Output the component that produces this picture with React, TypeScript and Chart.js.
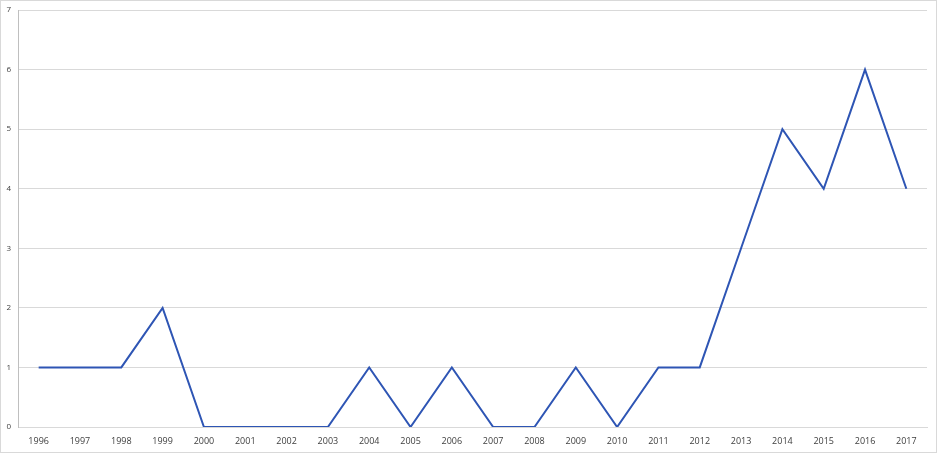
import React, { useEffect, useRef } from "react";
import { Chart, registerables } from "chart.js";

Chart.register(...registerables);

const years = ["1996","1997","1998","1999","2000","2001","2002","2003","2004","2005","2006","2007","2008","2009","2010","2011","2012","2013","2014","2015","2016","2017"];
const counts = [1,1,1,2,0,0,0,0,1,0,1,0,0,1,0,1,1,3,5,4,6,4];

export default function App() {
  const ref = useRef<HTMLCanvasElement>(null);
  useEffect(() => {
    document.body.style.margin = "0";
    const chart = new Chart(ref.current!, {
      type: "line",
      data: {
        labels: years,
        datasets: [{
          data: counts,
          borderColor: "#2E55B4",
          borderWidth: 2,
          pointRadius: 0,
          tension: 0,
          fill: false,
        }],
      },
      options: {
        animation: false,
        responsive: false,
        maintainAspectRatio: false,
        layout: { padding: { top: 9, right: 9, bottom: 0, left: 0 } },
        plugins: { legend: { display: false }, tooltip: { enabled: false } },
        scales: {
          x: {
            offset: true,
            grid: { display: false, drawTicks: false },
            border: { display: true, color: "#d9d9d9" },
            ticks: { color: "#404040", font: { family: "Open Sans", size: 9 }, padding: 9, maxRotation: 0, autoSkip: false },
            afterFit: (s: any) => { s.height = 25; },
          },
          y: {
            min: 0,
            max: 7,
            grid: { color: "#d9d9d9", drawTicks: false },
            border: { display: true, color: "#bfbfbf" },
            ticks: { stepSize: 1, color: "#404040", font: { family: "Open Sans", size: 8 }, padding: 7 },
            afterFit: (s: any) => { s.width = 17; s.paddingTop = 0; s.paddingBottom = 0; },
          },
        },
      },
    });
    return () => chart.destroy();
  }, []);
  return (
    <div style={{ position: "fixed", left: 0, top: 0, width: 937, height: 453, boxSizing: "border-box", border: "1px solid #d9d9d9", background: "#fff" }}>
      <canvas ref={ref} width={935} height={451} style={{ display: "block" }} />
    </div>
  );
}
